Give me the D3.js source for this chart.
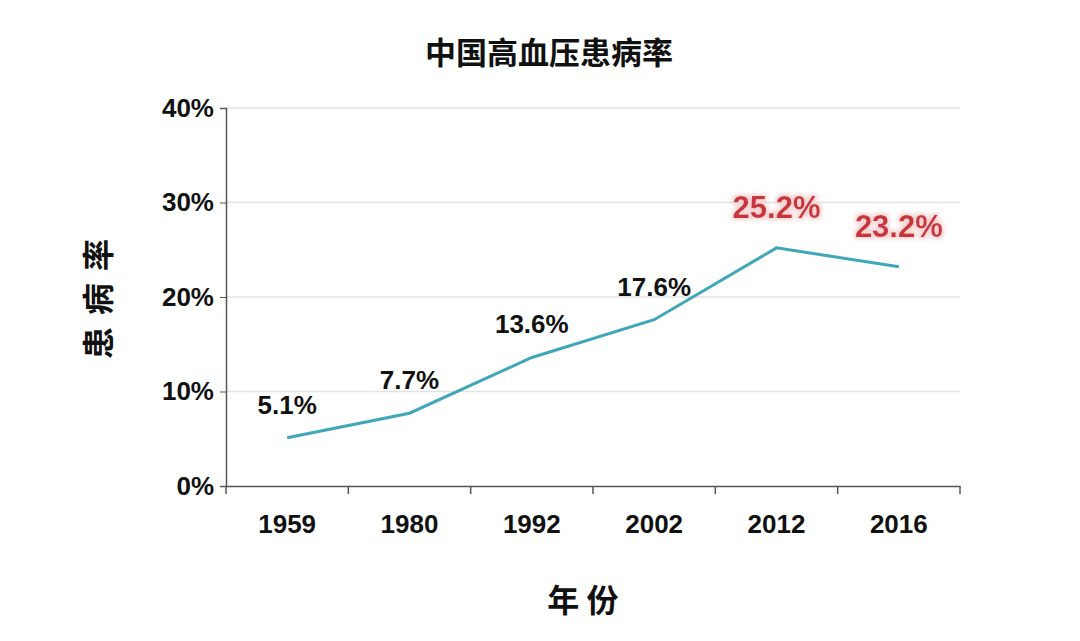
<!DOCTYPE html>
<html><head><meta charset="utf-8">
<script src="https://cdn.jsdelivr.net/npm/d3@7"></script>
<style>body{margin:0;background:#fff}</style></head>
<body><svg id="c" width="1080" height="641"></svg>
<script>
const years = ["1959","1980","1992","2002","2012","2016"];
const rates = [5.1,7.7,13.6,17.6,25.2,23.2];
const labels = ["5.1%","7.7%","13.6%","17.6%","25.2%","23.2%"];
const highlight = [false,false,false,false,true,true];
const yTicks = [0,10,20,30,40];

const svg = d3.select("#c");
const font = "'Liberation Sans', Arial, 'Noto Sans CJK SC', sans-serif";
const x = d3.scaleBand().domain(years).range([226,960]);
const y = d3.scaleLinear().domain([0,40]).range([486,108]);

const defs = svg.append("defs");
const f = defs.append("filter").attr("id","glow").attr("x","-20%").attr("y","-40%").attr("width","140%").attr("height","180%");
f.append("feMorphology").attr("in","SourceAlpha").attr("operator","dilate").attr("radius",2).attr("result","d");
f.append("feGaussianBlur").attr("in","d").attr("stdDeviation",2).attr("result","b");
f.append("feFlood").attr("flood-color","#f6d2d2");
f.append("feComposite").attr("in2","b").attr("operator","in").attr("result","g");
const m = f.append("feMerge"); m.append("feMergeNode").attr("in","g"); m.append("feMergeNode").attr("in","SourceGraphic");

svg.append("g").selectAll("line").data(yTicks.slice(1)).join("line")
  .attr("x1",226).attr("x2",960).attr("y1",d=>y(d)).attr("y2",d=>y(d))
  .attr("stroke","#e3e3e3").attr("stroke-width",1.5);

const ya = svg.append("g").attr("transform","translate(226,0)")
  .call(d3.axisLeft(y).tickValues(yTicks).tickFormat(d=>d+"%").tickSize(6));
ya.select(".domain").attr("stroke","#555").attr("stroke-width",1.5);
ya.selectAll("line").attr("stroke","#555");
ya.selectAll("text").attr("font-family",font).attr("font-weight","bold").attr("font-size",26).attr("fill","#111").attr("dx",-3);

const xa = svg.append("g").attr("transform","translate(0,486)")
  .call(d3.axisBottom(x).tickSize(0).tickPadding(29));
xa.select(".domain").attr("stroke","#555").attr("stroke-width",1.5);
xa.selectAll("text").attr("font-family",font).attr("font-weight","bold").attr("font-size",26).attr("fill","#111");
svg.append("g").selectAll("line").data([...years.map(d=>x(d)),960]).join("line")
  .attr("x1",d=>d).attr("x2",d=>d).attr("y1",486).attr("y2",494).attr("stroke","#555").attr("stroke-width",1.5);

const cx = d=>x(d)+x.bandwidth()/2;
svg.append("path").datum(rates.map((r,i)=>[cx(years[i]),y(r)]))
  .attr("d",d3.line()).attr("fill","none").attr("stroke","#3fa7b8").attr("stroke-width",3);

svg.append("g").selectAll("text").data(years).join("text")
  .attr("x",(d,i)=>cx(d)).attr("y",(d,i)=>y(rates[i])-(highlight[i]?30:24))
  .attr("text-anchor","middle").attr("font-family",font).attr("font-weight",(d,i)=>highlight[i]?"bold":"bold")
  .attr("font-size",(d,i)=>highlight[i]?31:26)
  .attr("fill",(d,i)=>highlight[i]?"#c9363d":"#111")
  .attr("filter",(d,i)=>highlight[i]?"url(#glow)":null)
  .text((d,i)=>labels[i]);

svg.append("text").attr("x",549).attr("y",64).attr("text-anchor","middle")
  .attr("font-family","'Noto Sans CJK SC'").attr("font-weight","bold").attr("font-size",31).attr("fill","#111").text("中国高血压患病率");
svg.append("g").selectAll("text").data(["患","病","率"]).join("text")
  .attr("x",98).attr("y",(d,i)=>355-i*44).attr("text-anchor","middle")
  .attr("transform",(d,i)=>`rotate(-90,98,${355-i*44-12})`)
  .attr("font-family","'Noto Sans CJK SC'").attr("font-weight","bold").attr("font-size",32).attr("fill","#111").text(d=>d);
svg.append("text").attr("x",583).attr("y",612).attr("text-anchor","middle")
  .attr("font-family","'Noto Sans CJK SC'").attr("font-weight","bold").attr("font-size",32).attr("fill","#111").text("年 份");
</script></body></html>
